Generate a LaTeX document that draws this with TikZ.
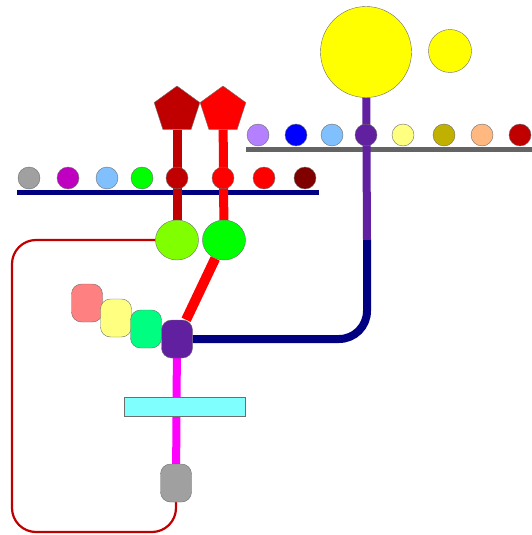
\documentclass[tikz,border=0pt]{standalone}
\usetikzlibrary{shapes.geometric,backgrounds}
\definecolor{darkred}{RGB}{192,0,0}
\definecolor{maroon}{RGB}{128,0,0}
\definecolor{navy}{RGB}{0,0,128}
\definecolor{violet}{RGB}{96,32,160}
\definecolor{lavender}{RGB}{180,128,255}
\definecolor{skyblue}{RGB}{128,192,255}
\definecolor{paleyellow}{RGB}{255,255,128}
\definecolor{olive}{RGB}{192,176,0}
\definecolor{peach}{RGB}{255,184,128}
\definecolor{plum}{RGB}{192,0,192}
\definecolor{lime}{RGB}{128,255,0}
\definecolor{mint}{RGB}{0,255,128}
\definecolor{salmon}{RGB}{255,128,128}
\definecolor{aqua}{RGB}{128,255,255}
\definecolor{pureyellow}{RGB}{255,255,0}
\definecolor{puregreen}{RGB}{0,255,0}
\definecolor{purered}{RGB}{255,0,0}
\definecolor{pureblue}{RGB}{0,0,255}
\definecolor{fuchsia}{RGB}{255,0,255}
\definecolor{ash}{RGB}{160,160,160}
\definecolor{railgray}{RGB}{100,100,100}
\definecolor{edge}{RGB}{110,110,110}

\begin{document}
\begin{tikzpicture}[x=1pt,y=-1pt,
dot/.style={circle, draw=edge, line width=0.4pt, fill=#1, minimum size=22pt, inner sep=0pt},
ball/.style={ellipse, draw=edge, line width=0.4pt, fill=#1, minimum width=43pt, minimum height=40pt, inner sep=0pt},
pill/.style={rectangle, rounded corners=10pt, draw=edge, line width=0.4pt, fill=#1, minimum width=31pt, minimum height=38pt, inner sep=0pt},
penta/.style={regular polygon, regular polygon sides=5, draw=edge, line width=0.4pt, fill=#1, minimum size=48pt, inner sep=0pt},
bar/.style={line width=5pt},
stem/.style={line width=9pt}
]
\useasboundingbox (0,0) rectangle (532,535);

\node (sun) [circle, draw=edge, fill=pureyellow, minimum size=91pt, inner sep=0pt] at (366,52) {};
\node (moon) [circle, draw=edge, fill=pureyellow, minimum size=43pt, inner sep=0pt] at (450,51) {};

\foreach \x/\c [count=\i] in {258/lavender,296/pureblue,332/skyblue,366/violet,403/paleyellow,444/olive,482/peach,520/darkred}
  \node (r\i) [dot=\c] at (\x,135) {};

\foreach \x/\c [count=\i] in {29/ash,68/plum,107/skyblue,142/puregreen,177/darkred,223/purered,264/purered,305/maroon}
  \node (l\i) [dot=\c] at (\x,178) {};

\node (pdark) [penta=darkred] at (177,110) {};
\node (pred) [penta=purered] at (223,110) {};

\node (glime) [ball=lime] at (177,240) {};
\node (ggreen) [ball=puregreen] at (224,240) {};

\node (salmonbox) [pill=salmon] at (87,303) {};
\node (yellowbox) [pill=paleyellow] at (116,318) {};
\node (mintbox) [pill=mint] at (146,329) {};
\node (hub) [pill=violet] at (177,339) {};

\node (plate) [rectangle, draw=edge, fill=aqua, minimum width=121pt, minimum height=19pt, inner sep=0pt] at (184.5,406.5) {};
\node (base) [pill=ash] at (176,483) {};

\coordinate (turn) at (367,240);

\begin{scope}[on background layer]
\draw [bar, draw=railgray] (246,149) -- (532,149);
\draw [bar, draw=navy] (17,192) -- (319,192);
\draw [stem, draw=darkred] (pdark) -- (glime);
\draw [stem, draw=purered] (pred) -- (ggreen);
\draw [stem, draw=purered, line width=10pt] (ggreen) -- (hub);
\draw [stem, draw=violet, line width=8pt] (sun) -- (turn);
\draw [stem, draw=navy, line width=8pt, rounded corners=28pt] (turn) |- (hub);
\draw [stem, draw=fuchsia, line width=8pt] (hub) -- (base);
\draw [line width=2.2pt, draw=darkred, rounded corners=24pt] (glime.west) -| (12,532) -| (base.south);
\end{scope}
\end{tikzpicture}
\end{document}
